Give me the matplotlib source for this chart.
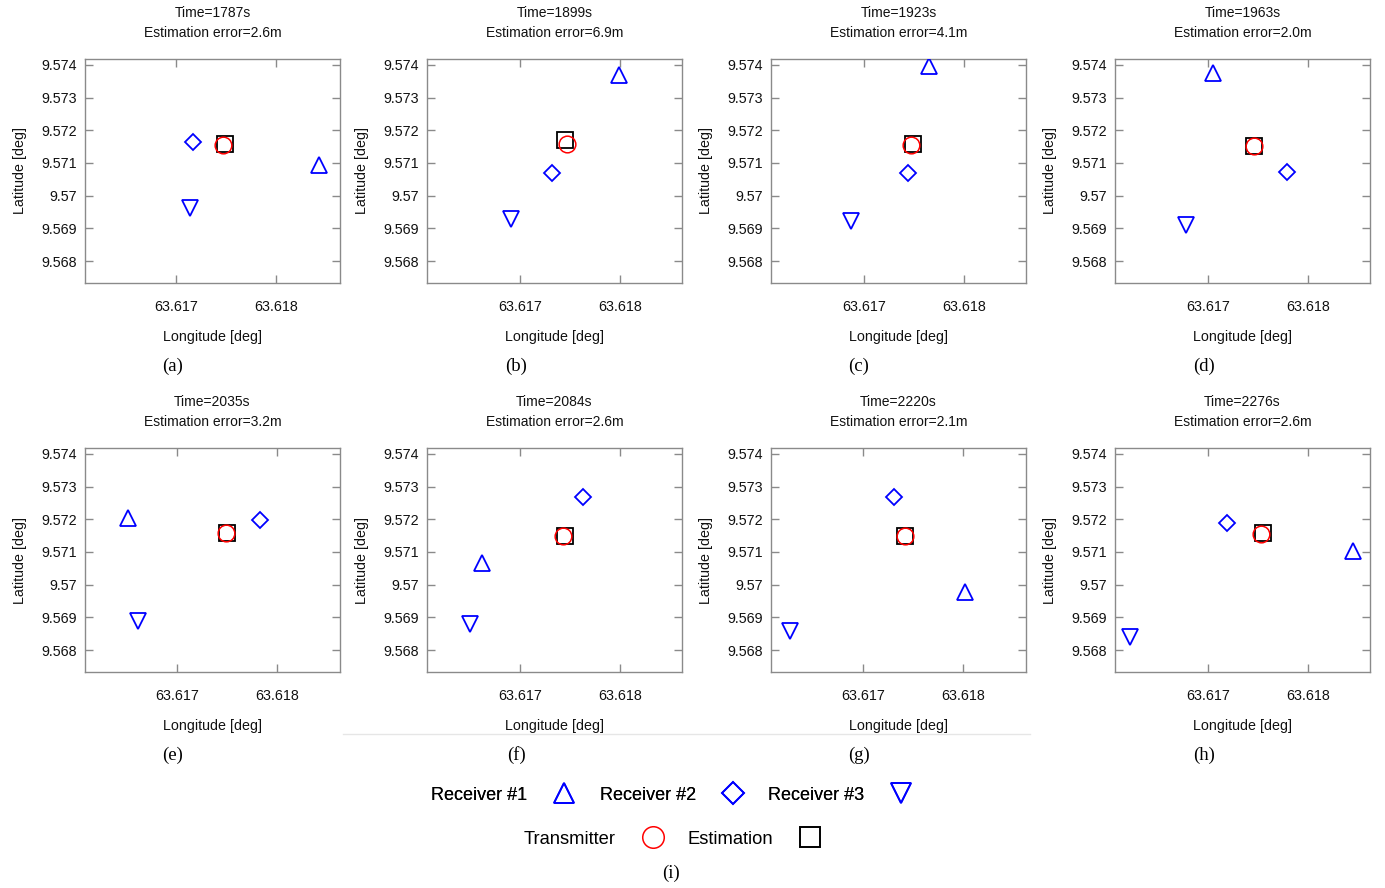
import matplotlib
matplotlib.use("Agg")
import matplotlib.pyplot as plt
from matplotlib.lines import Line2D

# ---------------- data ----------------
panel_letters = ["a", "b", "c", "d", "e", "f", "g", "h"]
times = [1787, 1899, 1923, 1963, 2035, 2084, 2220, 2276]
errors = [2.6, 6.9, 4.1, 2.0, 3.2, 2.6, 2.1, 2.6]

rx1_lon = [63.61843, 63.61799, 63.61765, 63.61705, 63.61651, 63.61662, 63.61802, 63.61845]
rx1_lat = [9.57094, 9.57369, 9.57397, 9.57375, 9.57204, 9.57066, 9.56978, 9.57103]
rx2_lon = [63.61717, 63.61732, 63.61744, 63.61779, 63.61783, 63.61763, 63.61731, 63.61719]
rx2_lat = [9.57164, 9.57069, 9.57069, 9.57072, 9.57198, 9.57268, 9.57268, 9.57189]
rx3_lon = [63.61714, 63.61691, 63.61687, 63.61678, 63.61661, 63.61650, 63.61627, 63.61622]
rx3_lat = [9.56962, 9.56929, 9.56922, 9.56910, 9.56889, 9.56880, 9.56858, 9.56840]
tx_lon = [63.61747, 63.61747, 63.61747, 63.61746, 63.61749, 63.61743, 63.61742, 63.61753]
tx_lat = [9.57155, 9.57158, 9.57155, 9.57152, 9.57158, 9.57149, 9.57149, 9.57155]
est_lon = [63.61749, 63.61745, 63.61749, 63.61746, 63.61750, 63.61745, 63.61742, 63.61755]
est_lat = [9.57158, 9.57170, 9.57158, 9.57152, 9.57158, 9.57149, 9.57149, 9.57158]

x_ticks = [63.617, 63.618]
x_tick_labels = ["63.617", "63.618"]
y_ticks = [9.568, 9.569, 9.570, 9.571, 9.572, 9.573, 9.574]
y_tick_labels = ["9.568", "9.569", "9.57", "9.571", "9.572", "9.573", "9.574"]

legend_row1 = ["Receiver #1", "Receiver #2", "Receiver #3"]
legend_row2 = ["Transmitter", "Estimation"]

# ---------------- layout ----------------
W, H = 1385, 888
fig = plt.figure(figsize=(W / 100, H / 100), dpi=100)
plt.rcParams["font.family"] = ["Liberation Sans", "DejaVu Sans"]

col_left = [85, 427, 771, 1115]
row_top = [59, 448]
ax_w, ax_h = 255, 224
caption_x = [173, 516, 859, 1204]
caption_y = [366, 755]

# offsets per panel (tick 63.617 pixel position relative to left edge)
tick_off = [91, 93, 93, 93, 92, 93, 92, 93]

BLUE = "#0000ff"
GRAY = "#8a8a8a"
MS = 12
MEW = 1.3

for i in range(8):
    r, c = divmod(i, 4)
    l = col_left[c]
    t = row_top[r]
    ax = fig.add_axes([l / W, 1 - (t + ax_h) / H, ax_w / W, ax_h / H])
    x0 = 63.617 - tick_off[i] / 100 * 0.001
    ax.set_xlim(x0, x0 + ax_w / 100 * 0.001)
    ax.set_ylim(9.568 - 0.00067, 9.574 + 0.00018)

    ax.plot(est_lon[i], est_lat[i], marker="s", ms=11.5, mfc="none", mec="black", mew=MEW, ls="none", zorder=3)
    ax.plot(tx_lon[i], tx_lat[i], marker="o", ms=12, mfc="none", mec="red", mew=1.1, ls="none", zorder=4)
    ax.plot(rx1_lon[i], rx1_lat[i], marker="^", ms=MS, mfc="none", mec=BLUE, mew=MEW, ls="none", zorder=3)
    ax.plot(rx2_lon[i], rx2_lat[i], marker="D", ms=8.5, mfc="none", mec=BLUE, mew=MEW, ls="none", zorder=3)
    ax.plot(rx3_lon[i], rx3_lat[i], marker="v", ms=MS, mfc="none", mec=BLUE, mew=MEW, ls="none", zorder=3)

    ax.set_xticks(x_ticks)
    ax.set_xticklabels(x_tick_labels)
    ax.set_yticks(y_ticks)
    ax.set_yticklabels(y_tick_labels)
    ax.tick_params(direction="in", length=6, width=1, color=GRAY,
                   top=True, right=True, labelsize=10.3, labelcolor="#111111")
    ax.tick_params(axis="x", pad=12)
    ax.tick_params(axis="y", pad=6)
    for s in ax.spines.values():
        s.set_color(GRAY)
        s.set_linewidth(1.0)

    ax.set_xlabel("Longitude [deg]", fontsize=10.3, labelpad=11.5, color="#111111")
    ax.set_ylabel("Latitude [deg]", fontsize=10.3, labelpad=10, color="#111111")
    ax.set_title(f"Time={times[i]}s\nEstimation error={errors[i]:.1f}m",
                 fontsize=10, pad=15.5, linespacing=1.6, color="#111111")

    fig.text(caption_x[c] / W, 1 - caption_y[r] / H, f"({panel_letters[i]})",
             family="Liberation Serif", fontsize=13.5, ha="center", va="center")

# thin separator line
fig.add_artist(Line2D([343 / W, 1030 / W], [1 - 734 / H, 1 - 734 / H],
                      color="#e6e6e6", lw=1))

# legend
h1 = [Line2D([], [], marker=m, ms=ms_, mfc="none", mec=BLUE, mew=1.3, ls="none")
      for m, ms_ in zip(["^", "D", "v"], [15, 11, 15])]
h2 = [Line2D([], [], marker="o", ms=15.5, mfc="none", mec="red", mew=1.1, ls="none"),
      Line2D([], [], marker="s", ms=15, mfc="none", mec="black", mew=1.4, ls="none")]
leg1 = fig.legend(h1, legend_row1, ncol=3, markerfirst=False, frameon=False,
                  loc="center", bbox_to_anchor=(673 / W, 1 - 795 / H),
                  fontsize=13, handletextpad=1.3, columnspacing=1.2, handlelength=1.5)
fig.add_artist(leg1)
leg2 = fig.legend(h2, legend_row2, ncol=2, markerfirst=False, frameon=False,
                  loc="center", bbox_to_anchor=(674 / W, 1 - 839 / H),
                  fontsize=13.2, handletextpad=1.3, columnspacing=1.1, handlelength=1.5)

fig.text(671 / W, 1 - 873 / H, "(i)", family="Liberation Serif", fontsize=13.5,
         ha="center", va="center")

fig.savefig("out.png", dpi=100)
